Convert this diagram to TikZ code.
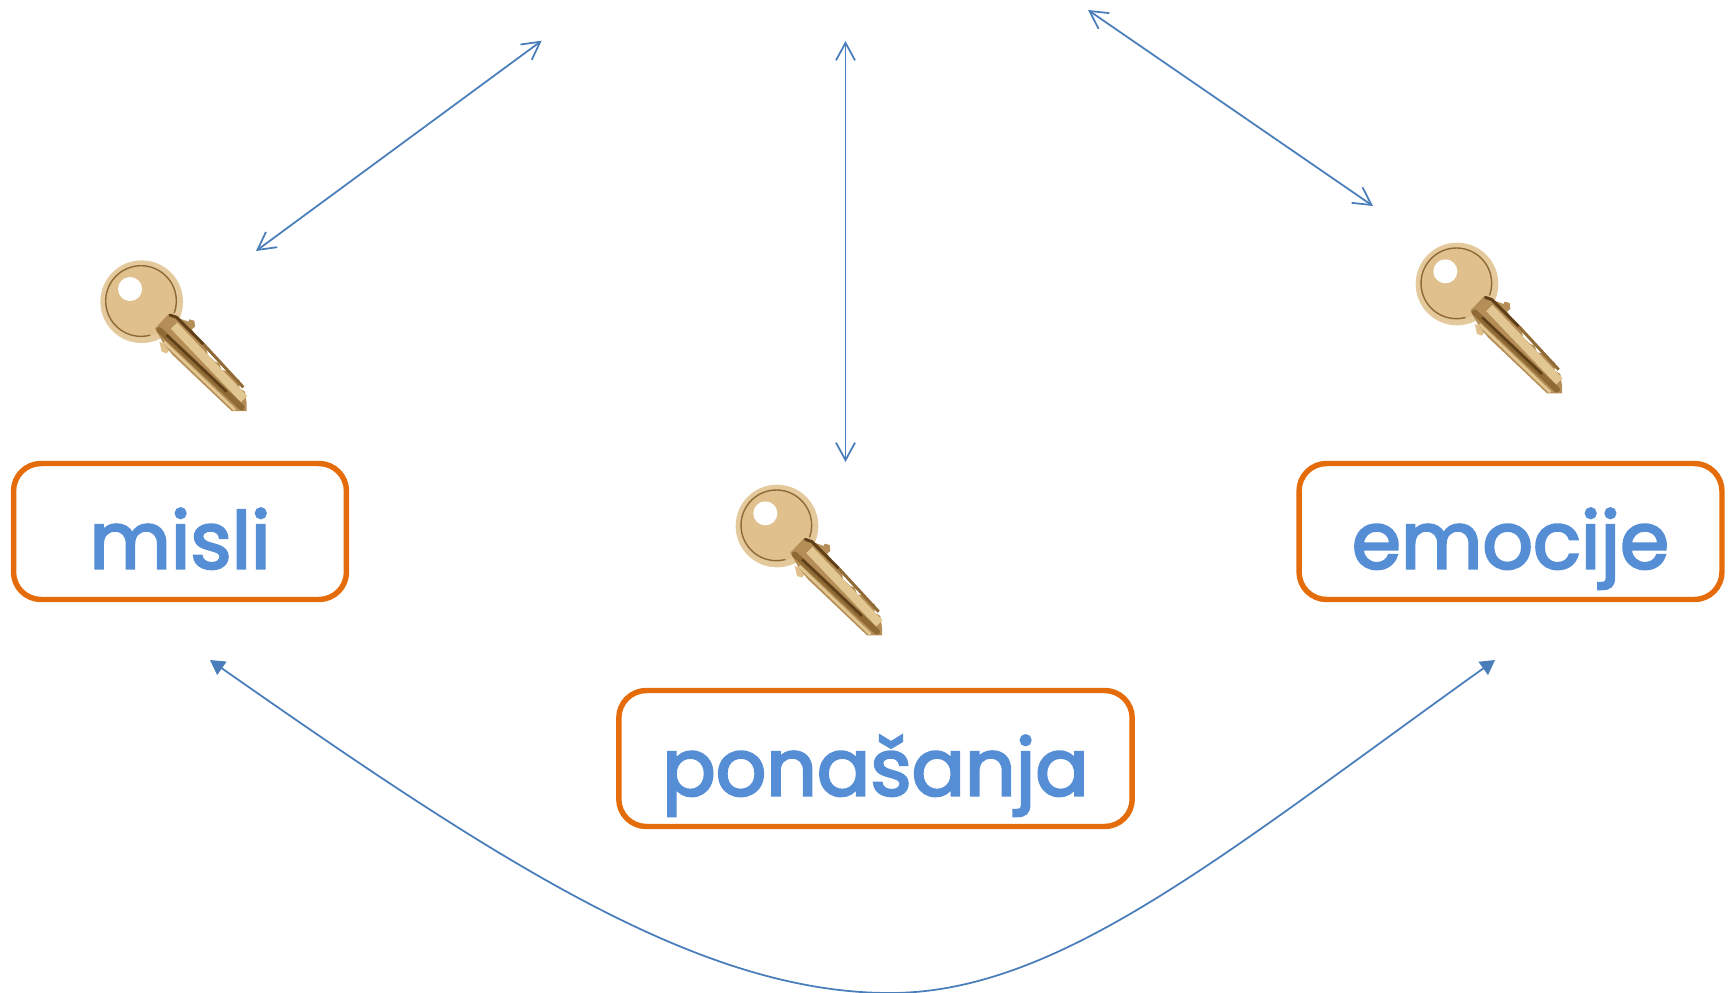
\documentclass[tikz,border=0pt]{standalone}
\usepackage{fontspec}
\usepackage{xcolor}
\usetikzlibrary{arrows.meta}
\setmainfont[FakeBold=3]{Poppins}
\definecolor{boxorange}{HTML}{E46C0A}
\definecolor{wordblue}{HTML}{558ED5}
\definecolor{arrowblue}{HTML}{4A7EBB}
\definecolor{keytan}{HTML}{E0C18E}
\definecolor{keylight}{HTML}{E2C792}
\definecolor{keyedge}{HTML}{E3C99C}
\definecolor{keymid}{HTML}{B58E57}
\definecolor{keybrown}{HTML}{8F6A35}
\definecolor{keydark}{HTML}{5F3F18}
\tikzset{%
	wordbox/.style   = {draw=boxorange, line width=3.1pt, rectangle, rounded corners=0.55cm, minimum height=2.72cm, inner sep=0pt, text height=1.5cm, text depth=0.02cm, text centered, text=wordblue, font=\fontsize{45}{50}\selectfont},
	openarrow/.style = {arrowblue, line width=1pt, {Straight Barb[length=3.5mm,width=3.8mm]}-{Straight Barb[length=3.5mm,width=3.8mm]}},
	looparrow/.style = {arrowblue, line width=1pt, {Triangle[length=2.9mm,width=3.2mm]}-{Triangle[length=2.9mm,width=3.2mm]}},
	goldkey/.pic = {
		\begin{scope}[scale=0.3333,shift={(-245,-215)}]
			% lug under the blade
			\fill[keytan] (298,335) -- (305,365) -- (320,370) -- (335,350) -- cycle;
			% bow
			\fill[keyedge] (245,215) circle[radius=124];
			\fill[keytan] (243,213) circle[radius=108];
			\draw[keybrown, line width=0.8pt] (243,213) ++(75:106) arc[start angle=75,end angle=380,radius=106];
			\fill[white] (210,177) circle[radius=36];
			% blade
			\fill[keymid] (325,253) -- (385,275) -- (388,268) -- (403,272) -- (405,290) -- (395,298) -- (415,325) -- (430,345) -- (440,355) -- (443,375) -- (465,395) -- (478,400) -- (485,420) -- (510,425) -- (520,440) -- (538,450) -- (538,475) -- (555,485) -- (560,520) -- (560,543) -- (515,543) -- (338,375) -- (310,340) -- (285,295) -- cycle;
			\draw[keylight, line width=1.6pt] (312,336) -- (525,540);
			\draw[keybrown, line width=3.4pt, line cap=round] (298,300) -- (545,532);
			\draw[keydark, line width=1.4pt] (320,315) -- (500,485);
			\draw[keylight, line width=5pt] (342,287) -- (552,507);
			\draw[keydark, line width=1.7pt, line cap=round] (330,255) -- (350,262) -- (430,342);
			\draw[keybrown, line width=1.7pt] (430,342) -- (550,472);
		\end{scope}
	},
}

\begin{document}
\begin{tikzpicture}[x=0.02cm,y=-0.02cm]
	\useasboundingbox (0,0) rectangle (1733,993);
	
	% word boxes
	\node[wordbox, minimum width=6.66cm] (misli) at (180,531.5) {misli};
	\node[wordbox, minimum width=10.27cm] (ponasanja) at (875.5,758.5) {ponašanja};
	\node[wordbox, minimum width=8.46cm] (emocije) at (1510.5,531.5) {emocije};
	
	% keys
	\foreach \kx/\ky in {141.7/301.7,777/526,1457/284} \pic at (\kx,\ky) {goldkey};
	
	% free arrow ends
	\coordinate (mislitop) at (256,251);
	\coordinate (midleft) at (541.7,40.7);
	\coordinate (midtop) at (845.5,41);
	\coordinate (midbottom) at (845.5,462);
	\coordinate (midright) at (1088,10);
	\coordinate (emocijetop) at (1373,206);
	\coordinate (mislibottom) at (210,660);
	\coordinate (emocijebottom) at (1495,660);
	\coordinate (lowest) at (890,993);
	
	\draw[openarrow] (mislitop) -- (midleft);
	\draw[openarrow] (midtop) -- (midbottom);
	\draw[openarrow] (midright) -- (emocijetop);
	\draw[looparrow] (mislibottom) .. controls (500,863) and (700,993) .. (lowest) .. controls (1060,993) and (1225,853) .. (emocijebottom);
\end{tikzpicture}
\end{document}
